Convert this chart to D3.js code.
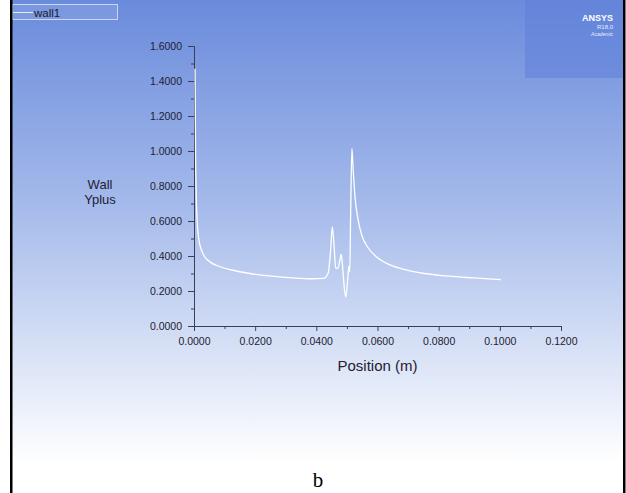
<!DOCTYPE html>
<html>
<head>
<meta charset="utf-8">
<script src="https://cdn.jsdelivr.net/npm/d3@7"></script>
<style>
    body { margin: 0; background: #fff; }
    svg { display: block; font-family: Arial, "Liberation Sans", sans-serif; }
</style>
</head>
<body>
<div id="chart"></div>
<script>

// Wall Yplus along wall1
var position = [0.0000, 0.0002, 0.0004, 0.0007, 0.0012, 0.0020, 0.0030, 0.0050, 0.0080, 0.0120,
    0.0180, 0.0250, 0.0320, 0.0380, 0.0420, 0.0435, 0.0443, 0.0449, 0.0455, 0.0460,
    0.0467, 0.0473, 0.0478, 0.0483, 0.0488, 0.0493, 0.0499, 0.0503, 0.0506, 0.0509,
    0.0513, 0.0517, 0.0523, 0.0532, 0.0545, 0.0565, 0.0590, 0.0630, 0.0680, 0.0750,
    0.0830, 0.0910, 0.1000];
var wallYplus = [1.47, 0.95, 0.75, 0.60, 0.50, 0.44, 0.40, 0.365, 0.34, 0.32,
    0.30, 0.285, 0.275, 0.27, 0.272, 0.30, 0.42, 0.567, 0.45, 0.33,
    0.33, 0.37, 0.41, 0.33, 0.22, 0.165, 0.26, 0.34, 0.31, 0.65,
    1.015, 0.90, 0.74, 0.62, 0.52, 0.45, 0.40, 0.355, 0.325, 0.30,
    0.285, 0.275, 0.265];

// Tick values
var xTicks = [0, 0.02, 0.04, 0.06, 0.08, 0.10, 0.12];
var xMinorTicks = [0.01, 0.03, 0.05, 0.07, 0.09, 0.11];
var yTicks = [0, 0.2, 0.4, 0.6, 0.8, 1.0, 1.2, 1.4, 1.6];
var yMinorTicks = [0.1, 0.3, 0.5, 0.7, 0.9, 1.1, 1.3, 1.5];

// Dimensions and margins
var fullWidth = 626, fullHeight = 493;
var margin = { top: 46, right: 65, bottom: 167, left: 194 };
var width = fullWidth - margin.left - margin.right;
var height = fullHeight - margin.top - margin.bottom;
var panelHeight = 462;

var root = d3.select("#chart")
    .append("svg")
    .attr("width", fullWidth)
    .attr("height", fullHeight);

// Blue to white background, like the solver viewport
var grad = root.append("defs").append("linearGradient")
    .attr("id", "bg")
    .attr("x1", 0).attr("y1", 0).attr("x2", 0).attr("y2", 1);
grad.append("stop").attr("offset", "0%").attr("stop-color", "#6a8bdc");
grad.append("stop").attr("offset", "45%").attr("stop-color", "#a6bbeb");
grad.append("stop").attr("offset", "85%").attr("stop-color", "#e6ecf9");
grad.append("stop").attr("offset", "100%").attr("stop-color", "#ffffff");

root.append("rect")
    .attr("x", 12).attr("y", 0)
    .attr("width", 611).attr("height", panelHeight)
    .attr("fill", "url(#bg)");

// ANSYS logo block
root.append("rect")
    .attr("x", 525).attr("y", 0)
    .attr("width", 98).attr("height", 78)
    .attr("fill", "#5f80d8")
    .attr("opacity", 0.55);
root.append("text")
    .attr("x", 613).attr("y", 21)
    .style("text-anchor", "end")
    .style("font-size", "9px")
    .style("font-weight", "bold")
    .attr("fill", "#ffffff")
    .text("ANSYS");
root.append("text")
    .attr("x", 613).attr("y", 29)
    .style("text-anchor", "end")
    .style("font-size", "6px")
    .attr("fill", "#e8eeff")
    .text("R18.0");
root.append("text")
    .attr("x", 613).attr("y", 36)
    .style("text-anchor", "end")
    .style("font-size", "5px")
    .style("font-style", "italic")
    .attr("fill", "#e8eeff")
    .text("Academic");

// Legend
root.append("rect")
    .attr("x", 12.5).attr("y", 4.5)
    .attr("width", 105).attr("height", 15)
    .attr("fill", "#ffffff").attr("fill-opacity", 0.1)
    .attr("stroke", "#dfe6fb").attr("stroke-opacity", 0.8);
root.append("line")
    .attr("x1", 13).attr("x2", 33)
    .attr("y1", 12.5).attr("y2", 12.5)
    .attr("stroke", "#e4e8f2").attr("stroke-width", 1);
root.append("text")
    .attr("x", 34).attr("y", 16.5)
    .style("font-size", "11.5px")
    .attr("fill", "#1a1a2a")
    .text("wall1");

// Page borders
root.append("rect").attr("x", 10).attr("y", 0).attr("width", 2.5).attr("height", fullHeight).attr("fill", "#000");
root.append("rect").attr("x", 623).attr("y", 0).attr("width", 2.5).attr("height", fullHeight).attr("fill", "#000");

// Caption
root.append("text")
    .attr("x", 318).attr("y", 487)
    .style("text-anchor", "middle")
    .style("font-family", "'Liberation Serif', 'Times New Roman', serif")
    .style("font-size", "21px")
    .attr("fill", "#000")
    .text("b");

var svg = root.append("g")
    .attr("transform", "translate(" + margin.left + "," + margin.top + ")");

// Scales and axes
var x = d3.scaleLinear().domain([0, 0.12]).range([0, width]);
var y = d3.scaleLinear().domain([0, 1.6]).range([height, 0]);
var fmt = d3.format(".4f");

var xAxis = d3.axisBottom(x).tickValues(xTicks).tickFormat(fmt).tickSize(5).tickSizeOuter(0).tickPadding(7);
var xMinor = d3.axisBottom(x).tickValues(xMinorTicks).tickFormat("").tickSize(3).tickSizeOuter(0);
var yAxis = d3.axisLeft(y).tickValues(yTicks).tickFormat(fmt).tickSize(6).tickSizeOuter(0).tickPadding(6);
var yMinor = d3.axisLeft(y).tickValues(yMinorTicks).tickFormat("").tickSize(3).tickSizeOuter(0);

function styleAxis(g) {
    g.selectAll("path, line").attr("stroke", "#3a3f55");
    g.selectAll("text")
        .attr("fill", "#1e2130")
        .style("font-size", "10.5px")
        .style("font-family", "Arial, 'Liberation Sans', sans-serif");
}

svg.append("g").attr("transform", "translate(0," + height + ")").call(xMinor).call(styleAxis);
svg.append("g").attr("transform", "translate(0," + height + ")").call(xAxis).call(styleAxis);
svg.append("g").call(yMinor).call(styleAxis);
svg.append("g").call(yAxis).call(styleAxis);

// x axis label
svg.append("text")
    .attr("x", x(0.06)).attr("y", height + 45)
    .style("text-anchor", "middle")
    .style("font-size", "15px")
    .attr("fill", "#1e2130")
    .text("Position (m)");

// y axis label, two lines
svg.append("text")
    .attr("x", -94).attr("y", y(0.8) + 3)
    .style("text-anchor", "middle")
    .style("font-size", "13px")
    .attr("fill", "#1e2130")
    .text("Wall");
svg.append("text")
    .attr("x", -94).attr("y", y(0.8) + 18)
    .style("text-anchor", "middle")
    .style("font-size", "13px")
    .attr("fill", "#1e2130")
    .text("Yplus");

// The curve
var data = position.map(function (p, i) { return { position: p, yplus: wallYplus[i] }; });
var line = d3.line()
    .curve(d3.curveMonotoneX)
    .x(function (d) { return x(d.position) + 1 })
    .y(function (d) { return y(d.yplus) });

svg.append("path")
    .datum(data)
    .attr("fill", "none")
    .attr("stroke", "#ffffff")
    .attr("stroke-width", 1.3)
    .attr("d", line);

</script>
</body>
</html>
